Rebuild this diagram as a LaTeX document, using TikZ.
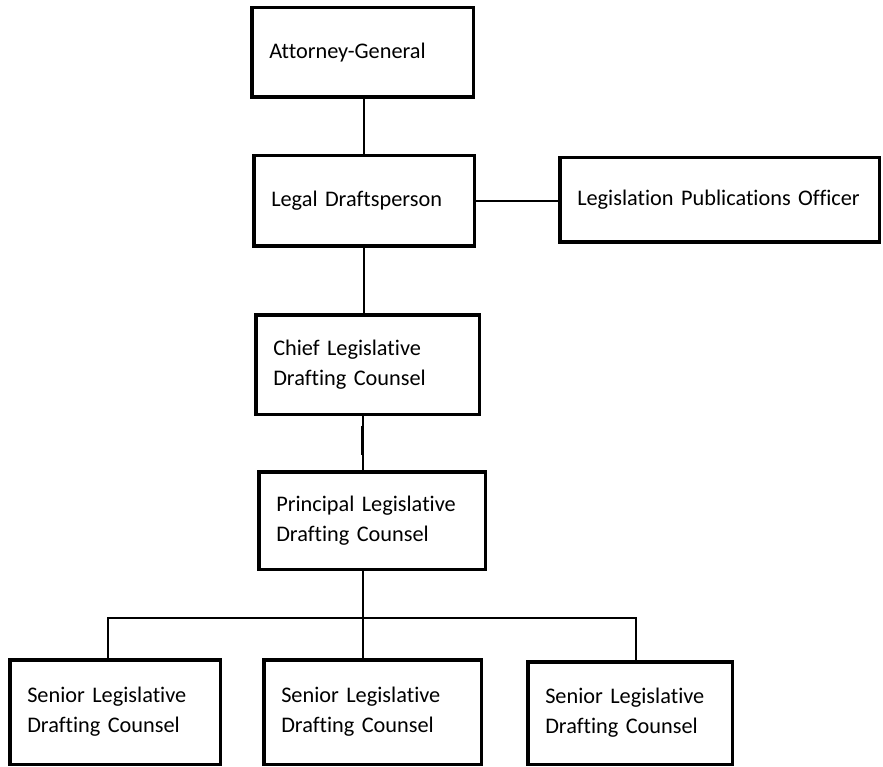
\documentclass[tikz,border=0pt]{standalone}
\usepackage{fontspec}
\setmainfont{Carlito}[Ligatures={NoCommon},WordSpace=0.85]
\hyphenpenalty=10000
\begin{document}
\begin{tikzpicture}[x=1pt,y=-1pt,
    post/.style = {rectangle,draw=black,line width=3.5pt,inner xsep=17.5pt,inner ysep=0pt,
                   align=left,outer sep=0pt,font=\fontsize{22.3}{30}\selectfont},
    link/.style = {draw=black,line width=2.4pt}]
\useasboundingbox (0,0) rectangle (883,767);
\node[post,text width=186.5pt,minimum height=89.5pt] (ag)  at (362.5,52.5) {Attorney-General};
\node[post,text width=185.5pt,minimum height=90.5pt] (ld)  at (364,201)    {Legal Draftsperson};
\node[post,text width=284.5pt,minimum height=84.5pt] (lpo) at (719.5,200)  {Legislation Publications Officer};
\node[post,text width=188.5pt,minimum height=99.5pt] (cl)  at (367.5,364.5) {Chief Legislative\\Drafting Counsel};
\node[post,text width=191.5pt,minimum height=97.5pt] (pl)  at (372,520.5)  {Principal Legislative\\Drafting Counsel};
\foreach \name/\cx/\cy/\w/\h in {sa/115/712/175.5/104.5, sb/372.5/712/182.5/104.5, sc/630/713/169.5/102.5}
    \node[post,text width=\w pt,minimum height=\h pt] (\name) at (\cx,\cy) {Senior Legislative\\Drafting Counsel};
\coordinate (busL) at (108,618);
\coordinate (busM) at (363,618);
\coordinate (busR) at (636,618);
\draw[link] (ag.south -| ld.north) -- (ld.north);
\draw[link] (ld.east) -- (ld.east -| lpo.west);
\draw[link] (ld.south) -- (ld.south |- cl.north);
\draw[link] (cl.south -| busM) -- (pl.north -| busM);
\draw[black,line width=0.8pt] ([xshift=-6.5pt,yshift=-12pt]cl.south) -- ++(0,29);
\draw[link] (pl.south -| busM) -- (busM |- sb.north);
\draw[link] (busL |- sa.north) -- (busL) -- (busR) -- (busR |- sc.north);
\end{tikzpicture}
\end{document}
